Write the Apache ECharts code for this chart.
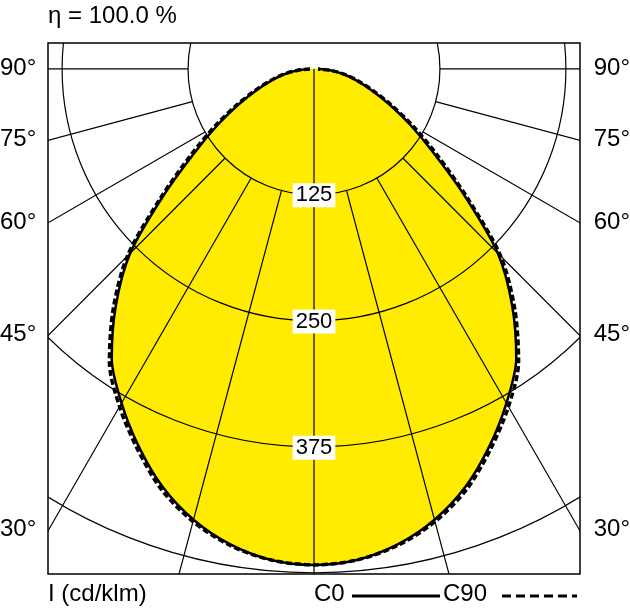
<!DOCTYPE html>
<html><head><meta charset="utf-8">
<script src="https://cdn.jsdelivr.net/npm/echarts@6/dist/echarts.min.js"></script>
<style>html,body{margin:0;padding:0;background:#fff}#c{width:630px;height:616px}</style>
</head><body><div id="c"></div>
<script>
const angles = [0,5,10,15,20,25,30,35,40,45,50,55,60,65,70,75,80,85,90];
const c0 =  [491,488,478,462,440,412,382,350,306,258,195,145,110,82,60,43,30,17,4];
const c90 = [491,488,479,464,443,415,386,354,310,262,199,150,114,85,62,45,31,17,4];
const rings = [125,250,375,500];
const ringLabels = ['125','250','375'];
const spokes = [-90,-75,-60,-45,-30,-15,0,15,30,45,60,75,90];
const angleLabels = ['90°','75°','60°','45°','30°'];
const labelAngles = [90,75,60,45,30];
const FONT = '"Liberation Sans Narrow","Liberation Sans",Arial,sans-serif';
const XMAX = 264, YTOP = 25.7, YBOT = -500;

function toXY(r, a){ const t=a*Math.PI/180; return [r*Math.sin(t), -r*Math.cos(t)]; }
function mirrored(vals){
  const pts=[];
  for(let i=angles.length-1;i>=0;i--) pts.push(toXY(vals[i], -angles[i]));
  for(let i=1;i<angles.length;i++) pts.push(toXY(vals[i], angles[i]));
  return pts;
}
const c0pts = mirrored(c0), c90pts = mirrored(c90);

const chart = echarts.init(document.getElementById('c'));
chart.setOption({
  animation:false,
  grid:{left:48,top:43,width:532,height:531,show:true,borderColor:'#000',borderWidth:1.5,backgroundColor:'transparent',z:10},
  xAxis:{type:'value',min:-XMAX,max:XMAX,show:false},
  yAxis:{type:'value',min:YBOT,max:YTOP,show:false},
  series:[
    {type:'custom',clip:true,z:1,data:[0],renderItem:(p,api)=>{
      const pts=c0pts.map(d=>api.coord(d));
      return {type:'polygon',shape:{points:pts,smooth:0.3},style:{fill:'#FFEC00',stroke:null}};
    }},
    {type:'custom',clip:true,z:2,data:rings.map(r=>[r]),renderItem:(p,api)=>{
      const r=api.value(0), c=api.coord([0,0]), e=api.coord([r,0]);
      return {type:'circle',shape:{cx:c[0],cy:c[1],r:e[0]-c[0]},style:{fill:null,stroke:'#000',lineWidth:1.2}};
    }},
    {type:'custom',clip:true,z:2,data:spokes.map(a=>[a]),renderItem:(p,api)=>{
      const a=api.value(0), r0=a===0?0:125;
      const s=api.coord(toXY(r0,a)), e=api.coord(toXY(1200,a));
      return {type:'line',shape:{x1:s[0],y1:s[1],x2:e[0],y2:e[1]},style:{stroke:'#000',lineWidth:1.2}};
    }},
    {type:'line',data:c90pts,smooth:0.3,symbol:'none',z:3,lineStyle:{color:'#000',width:3.5,type:[6,3]}},
    {type:'line',data:c0pts,smooth:0.3,symbol:'none',z:4,lineStyle:{color:'#000',width:2.5}},
    {type:'custom',z:5,data:ringLabels.map((t,i)=>[0,-rings[i],t]),renderItem:(p,api)=>{
      const c=api.coord([api.value(0),api.value(1)]);
      return {type:'text',x:c[0],y:c[1],style:{text:ringLabels[p.dataIndex],font:'22px '+FONT,fill:'#000',align:'center',verticalAlign:'middle',backgroundColor:'#fff',padding:[2,3,0,3]}};
    }}
  ]
});
const g=[];
labelAngles.forEach((a,i)=>{
  const y=chart.convertToPixel({gridIndex:0},[0,-XMAX/Math.tan(a*Math.PI/180)])[1];
  g.push({type:'text',left:0,top:y-13,style:{text:angleLabels[i],font:'24px '+FONT,fill:'#000'}});
  g.push({type:'text',right:0,top:y-13,style:{text:angleLabels[i],font:'24px '+FONT,fill:'#000'}});
});
g.push({type:'text',left:48,top:4,style:{text:'η = 100.0 %',font:'24px '+FONT,fill:'#000'}});
g.push({type:'text',left:48,top:582,style:{text:'I (cd/klm)',font:'24px '+FONT,fill:'#000'}});
g.push({type:'text',left:314,top:582,style:{text:'C0',font:'24px '+FONT,fill:'#000'}});
g.push({type:'line',shape:{x1:352,y1:596,x2:440,y2:596},style:{stroke:'#000',lineWidth:3}});
g.push({type:'text',left:443,top:582,style:{text:'C90',font:'24px '+FONT,fill:'#000'}});
g.push({type:'line',shape:{x1:502,y1:596,x2:577,y2:596},style:{stroke:'#000',lineWidth:3,lineDash:[9,5]}});
chart.setOption({graphic:g});
</script></body></html>
